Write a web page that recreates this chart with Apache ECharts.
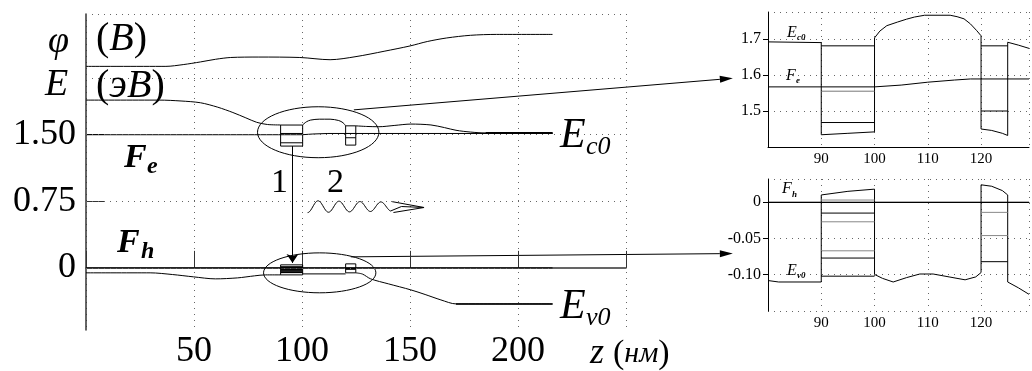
<!DOCTYPE html>
<html>
<head>
<meta charset="utf-8">
<script src="https://cdn.jsdelivr.net/npm/echarts@6/dist/echarts.min.js"></script>
<style>
html, body { margin: 0; background: #fff; }
#chart { width: 1032px; height: 371px; }
</style>
</head>
<body>
<div id="chart"></div>
<script>
// ---- main panel: z (nm) vs potential / energy ----
const mainXLabels = [50, 100, 150, 200];
const mainYLabels = [0, 0.75, 1.5];
const mainYGrid = [0, 0.75, 1.5, 2.14, 2.86];

const phiCurve = [[0, 2.27], [37, 2.27], [45, 2.29], [53, 2.32], [60, 2.35], [67, 2.37], [80, 2.375], [99, 2.37],
  [113, 2.345], [125, 2.38], [138, 2.44], [150, 2.50], [158, 2.55], [167, 2.59], [178, 2.62], [190, 2.63], [216, 2.63]];
const ecLeft = [[0, 1.89], [34, 1.89], [44, 1.88], [53, 1.86], [61, 1.81], [68, 1.75], [74, 1.69], [79, 1.64], [84, 1.615], [90.1, 1.61]];
const ecBump = [[100.3, 1.61], [102, 1.645], [104, 1.665], [108, 1.675], [113, 1.675], [117, 1.66], [119, 1.635], [120.2, 1.60]];
const ecRight = [[124.9, 1.60], [130, 1.593], [135.6, 1.59], [143, 1.605], [150.4, 1.62], [159.7, 1.61], [166, 1.58],
  [171.3, 1.55], [178, 1.53], [185, 1.52], [216, 1.52]];
const feLine = [[0, 1.5], [100, 1.5], [105, 1.508], [112, 1.514], [216, 1.514]];
const ecBoxes = [
  [[90.1, 1.609], [90.1, 1.372], [100.3, 1.372], [100.3, 1.609], [90.1, 1.609]],
  [[120.2, 1.60], [120.2, 1.383], [124.9, 1.383], [124.9, 1.60], [120.2, 1.60]]
];
const ecLevels = [
  [[90.1, 1.514], [100.3, 1.514]], [[90.1, 1.409], [100.3, 1.409]],
  [[120.2, 1.514], [124.9, 1.514]], [[120.2, 1.466], [124.9, 1.466]]
];

const fhLine = [[0, 0], [216, 0]];
const evLeft = [[0, -0.056], [29.7, -0.056], [40, -0.075], [49.7, -0.101], [59.9, -0.124], [70.1, -0.113], [78, -0.09], [83.1, -0.079], [90.1, -0.079]];
const evMid = [[100.3, -0.068], [120.2, -0.068]];
const evRight = [[124.9, -0.056], [128, -0.07], [131.8, -0.124], [140, -0.18], [150.4, -0.248], [157, -0.30], [164.3, -0.361],
  [171.3, -0.406], [216, -0.406]];
const evBoxes = [
  [[90.1, 0.034], [90.1, -0.079], [100.3, -0.079], [100.3, 0.034], [90.1, 0.034]],
  [[120.2, 0.045], [120.2, -0.056], [124.9, -0.056], [124.9, 0.045], [120.2, 0.045]]
];
const evLevels = [
  [[90.1, 0.008], [100.3, 0.008]], [[90.1, -0.023], [100.3, -0.023]], [[90.1, -0.048], [100.3, -0.048]],
  [[120.2, -0.011], [124.9, -0.011]]
];

// ellipses: centre z, centre E, half width (nm), half height (eV)
const ellipses = [[107.5, 1.528, 28.1, 0.287], [108.2, -0.056, 26.0, 0.225]];
// transition 1 (vertical arrow) and photon 2 (wavy arrow)
const transition1 = [[95.6, 1.372], [95.6, 0.056]];
const photon2 = [[102.6, 0.69, 156.5, 0.68]];

// ---- upper inset: conduction band near the wells ----
const insetXLabels = [90, 100, 110, 120];
const ecInset = [[80, 1.692], [90, 1.69], [90, 1.434], [95, 1.438], [100, 1.442], [100, 1.703], [101, 1.722], [102.3, 1.737],
  [104.3, 1.747], [106, 1.755], [107.5, 1.761], [109.4, 1.766], [114.2, 1.766], [115.5, 1.762], [116.8, 1.756],
  [118, 1.742], [119.2, 1.723], [120, 1.709], [120, 1.45], [122, 1.446], [124, 1.438], [125, 1.432], [125, 1.691],
  [127, 1.683], [129, 1.674]];
const ecInsetLevels = [
  [[90, 1.681], [100, 1.681]], [[90, 1.555], [100, 1.555]], [[90, 1.468], [100, 1.468]],
  [[120, 1.681], [125, 1.681]], [[120, 1.5], [125, 1.5]]
];
const feInset = [[80, 1.567], [100, 1.567], [105, 1.572], [110, 1.58], [115, 1.586], [118, 1.589], [129, 1.589]];

// ---- lower inset: valence band near the wells ----
const evInset = [[80, -0.108], [82, -0.11], [90, -0.11], [90, 0.010], [95, 0.015], [100, 0.018], [100, -0.0996],
  [101.5, -0.105], [103.5, -0.11], [106, -0.104], [108.5, -0.099], [111, -0.099], [114, -0.103], [117, -0.107],
  [119, -0.103], [120, -0.097], [120, 0.024], [122, 0.022], [124, 0.016], [125, 0.010], [125, -0.11],
  [127, -0.118], [129, -0.127]];
const evInsetLevels = [
  [[90, -0.102], [100, -0.102]], [[90, 0.003], [100, 0.003]], [[90, -0.015], [100, -0.015]],
  [[90, -0.027], [100, -0.027]], [[90, -0.067], [100, -0.067]], [[90, -0.077], [100, -0.077]],
  [[120, -0.014], [125, -0.014]], [[120, -0.046], [125, -0.046]], [[120, -0.082], [125, -0.082]]
];
const fhInset = [[80, 0], [129, 0]];

// arrows from the ellipses to the insets: [main z, main E, inset z, inset E, inset grid]
const zoomArrows = [[124, 1.78, 73.4, 1.591, 1], [122.6, 0.124, 73.4, -0.0708, 2]];

const SERIF = '"Liberation Serif", "DejaVu Serif", serif';
const DOT = { color: '#666', width: 1, type: [1, 5] };

const chart = echarts.init(document.getElementById('chart'), null, { renderer: 'canvas' });

const line = (data, grid, opts = {}) => ({
  type: 'line',
  xAxisIndex: grid,
  yAxisIndex: grid,
  data,
  symbol: 'none',
  smooth: opts.smooth || false,
  silent: true,
  z: 3,
  lineStyle: { color: opts.color || '#000', width: opts.width || 1 }
});

const series = [];
series.push(line(phiCurve, 0, { smooth: 0.3 }));
series.push(line(ecLeft, 0, { smooth: 0.3 }));
series.push(line(ecBump, 0, { smooth: 0.3 }));
series.push(line(ecRight, 0, { smooth: 0.3 }));
series.push(line(feLine, 0));
series.push(line(fhLine, 0));
series.push(line(evLeft, 0, { smooth: 0.3 }));
series.push(line(evMid, 0));
series.push(line(evRight, 0, { smooth: 0.3 }));
ecBoxes.concat(evBoxes).forEach((b) => series.push(line(b, 0)));
ecLevels.forEach((l) => series.push(line(l, 0)));
evLevels.forEach((l) => series.push(line(l, 0, { width: 2 })));
series.push(line([[185, 1.52], [216, 1.52]], 0, { width: 2 }));
series.push(line([[171.3, -0.406], [216, -0.406]], 0, { width: 1.5 }));

// dotted horizontal grid of the main panel
series.push({
  type: 'line', xAxisIndex: 0, yAxisIndex: 0, data: [], silent: true,
  markLine: {
    symbol: 'none', silent: true, label: { show: false },
    lineStyle: DOT,
    data: mainYGrid.map((v) => ({ yAxis: v }))
  }
});

series.push({
  type: 'custom',
  xAxisIndex: 0, yAxisIndex: 0,
  data: ellipses,
  silent: true,
  z: 4,
  renderItem: (params, api) => {
    const c = api.coord([api.value(0), api.value(1)]);
    const s = api.size([api.value(2), api.value(3)]);
    return {
      type: 'ellipse',
      shape: { cx: c[0], cy: c[1], rx: s[0], ry: s[1] },
      style: { fill: 'none', stroke: '#000', lineWidth: 1 }
    };
  }
});

series.push({
  type: 'lines',
  coordinateSystem: 'cartesian2d',
  xAxisIndex: 0, yAxisIndex: 0,
  silent: true,
  symbol: ['none', 'arrow'],
  symbolSize: 9,
  lineStyle: { color: '#000', width: 1, opacity: 1 },
  data: [{ coords: transition1 }]
});

series.push({
  type: 'custom',
  xAxisIndex: 0, yAxisIndex: 0,
  data: photon2,
  silent: true,
  renderItem: (params, api) => {
    const a = api.coord([api.value(0), api.value(1)]);
    const b = api.coord([api.value(2), api.value(3)]);
    const waveEnd = a[0] + (b[0] - a[0]) * 0.72;
    const pts = [];
    for (let x = a[0]; x <= waveEnd; x += 1) {
      const t = (x - a[0]) / (waveEnd - a[0]);
      pts.push([x, a[1] - 6 * Math.sin(t * Math.PI * 8 - Math.PI / 2) * (1 - 0.25 * t)]);
    }
    const tip = [b[0], b[1]];
    const st = { stroke: '#000', lineWidth: 1, fill: 'none' };
    return {
      type: 'group',
      children: [
        { type: 'polyline', shape: { points: pts }, style: st },
        { type: 'polyline', shape: { points: [pts[pts.length - 1], [waveEnd + 10, tip[1] - 1], tip] }, style: st },
        { type: 'line', shape: { x1: waveEnd, y1: tip[1] - 6, x2: tip[0], y2: tip[1] }, style: st },
        { type: 'line', shape: { x1: waveEnd + 2, y1: tip[1] + 5, x2: tip[0], y2: tip[1] }, style: st }
      ]
    };
  }
});

// insets
series.push(line(ecInset, 1));
ecInsetLevels.forEach((l, i) => series.push(line(l, 1, { color: i === 1 ? '#777' : '#000' })));
series.push(line(feInset, 1));
series.push(line(evInset, 2));
evInsetLevels.forEach((l, i) => series.push(line(l, 2, { color: [1, 3, 4, 6, 7].includes(i) ? '#888' : '#000' })));
series.push(line(fhInset, 2));

const insetX = (grid) => ({
  type: 'value', gridIndex: grid, min: 80, max: 129, interval: 10,
  axisLine: { lineStyle: { color: '#000', width: 1 } },
  axisTick: { show: false },
  axisLabel: {
    fontFamily: SERIF, fontSize: 15, color: '#000', margin: 5,
    formatter: (v) => (insetXLabels.includes(v) ? String(v) : '')
  },
  splitLine: { show: true, lineStyle: DOT }
});

const insetY = (grid, min, max, interval, digits) => ({
  type: 'value', gridIndex: grid, min, max, interval,
  axisLine: { show: true, lineStyle: { color: '#000', width: 1 } },
  axisTick: { show: true, length: 5, lineStyle: { color: '#000' } },
  axisLabel: {
    fontFamily: SERIF, fontSize: 16, color: '#000', margin: 7,
    showMinLabel: false, showMaxLabel: false,
    formatter: (v) => (Math.abs(v) < 1e-9 ? '0' : v.toFixed(digits))
  },
  splitLine: { show: true, lineStyle: DOT }
});

const text = (x, y, str, font, extra = {}) => ({
  type: 'text', x, y, silent: true, z: 10,
  style: Object.assign({ text: str, font, fill: '#000', textVerticalAlign: 'middle' }, extra)
});
const it = (size) => `italic ${size}px ${SERIF}`;
const rm = (size) => `${size}px ${SERIF}`;
const bi = (size) => `italic bold ${size}px ${SERIF}`;

const labels = [
  text(48, 42, 'φ', it(38)),
  text(96, 39, '{p|(}{l|В}{p|)}', rm(40), { rich: { p: { font: rm(40) }, l: { font: it(40) } } }),
  text(45, 85, 'E', it(38)),
  text(96, 86, '{p|(}{l|эВ}{p|)}', rm(40), { rich: { p: { font: rm(40) }, l: { font: it(40) } } }),
  text(124, 158, 'F', bi(34)),
  text(147, 167, 'e', bi(24)),
  text(117, 243, 'F', bi(34)),
  text(141, 252, 'h', bi(24)),
  text(271, 183, '1', rm(34)),
  text(327, 183, '2', rm(34)),
  text(560, 136, 'E', it(42)),
  text(586, 147, 'c0', it(26)),
  text(560, 307, 'E', it(42)),
  text(586, 318, 'v0', it(26)),
  text(590, 354, 'z', it(36)),
  text(613, 354, '{p|(}{l|нм}{p|)}', rm(34), { rich: { p: { font: rm(34) }, l: { font: it(30) } } }),
  text(787, 33, 'E', it(16)),
  text(797, 38, 'c0', bi(9)),
  text(786, 76, 'F', it(16)),
  text(796, 81, 'e', bi(9)),
  text(782, 189, 'F', it(16)),
  text(792, 195, 'h', bi(9)),
  text(787, 271, 'E', it(16)),
  text(797, 276, 'v0', bi(9))
];

chart.setOption({
  animation: false,
  backgroundColor: '#fff',
  grid: [
    { left: 86, top: 14, right: 406, bottom: 41 },
    { left: 768, top: 12, right: 0, bottom: 224 },
    { left: 768, top: 179, right: 0, bottom: 60 }
  ],
  xAxis: [
    {
      type: 'value', gridIndex: 0, min: 0, max: 250, interval: 50,
      axisLine: { lineStyle: { color: '#333', width: 1.5 } },
      axisTick: { inside: true, length: 17, lineStyle: { color: '#333', width: 1 } },
      axisLabel: {
        fontFamily: SERIF, fontSize: 36, color: '#000', margin: 4,
        formatter: (v) => (mainXLabels.includes(v) ? String(v) : '')
      },
      splitLine: { show: true, lineStyle: DOT }
    },
    insetX(1),
    insetX(2)
  ],
  yAxis: [
    {
      type: 'value', gridIndex: 0, min: -0.7, max: 2.86,
      axisLine: { show: true, lineStyle: { color: '#333', width: 1.5 } },
      axisTick: { show: true, inside: true, length: 18, customValues: [0.75, 1.5], lineStyle: { color: '#333' } },
      axisLabel: {
        customValues: mainYLabels,
        fontFamily: SERIF, fontSize: 36, color: '#000', margin: 10,
        formatter: (v) => (Math.abs(v) < 1e-9 ? '0' : v.toFixed(2))
      },
      splitLine: { show: false }
    },
    insetY(1, 1.4, 1.775, 0.1, 1),
    insetY(2, -0.15, 0.032, 0.05, 2)
  ],
  series,
  graphic: labels
});

// arrows linking the ellipses to the two insets, placed through the axes of both grids
const arrowGraphics = zoomArrows.map(([z0, e0, z1, e1, g]) => {
  const p0 = chart.convertToPixel({ gridIndex: 0 }, [z0, e0]);
  const p1 = chart.convertToPixel({ gridIndex: g }, [z1, e1]);
  const ang = Math.atan2(p1[1] - p0[1], p1[0] - p0[0]);
  const len = 13, hw = 3.5;
  const bx = p1[0] - len * Math.cos(ang), by = p1[1] - len * Math.sin(ang);
  const head = [p1, [bx - hw * Math.sin(ang), by + hw * Math.cos(ang)], [bx + hw * Math.sin(ang), by - hw * Math.cos(ang)]];
  return {
    type: 'group', silent: true, z: 10,
    children: [
      { type: 'line', shape: { x1: p0[0], y1: p0[1], x2: bx, y2: by }, style: { stroke: '#000', lineWidth: 1 } },
      { type: 'polygon', shape: { points: head }, style: { fill: '#000' } }
    ]
  };
});
chart.setOption({ graphic: labels.concat(arrowGraphics) });
</script>
</body>
</html>
